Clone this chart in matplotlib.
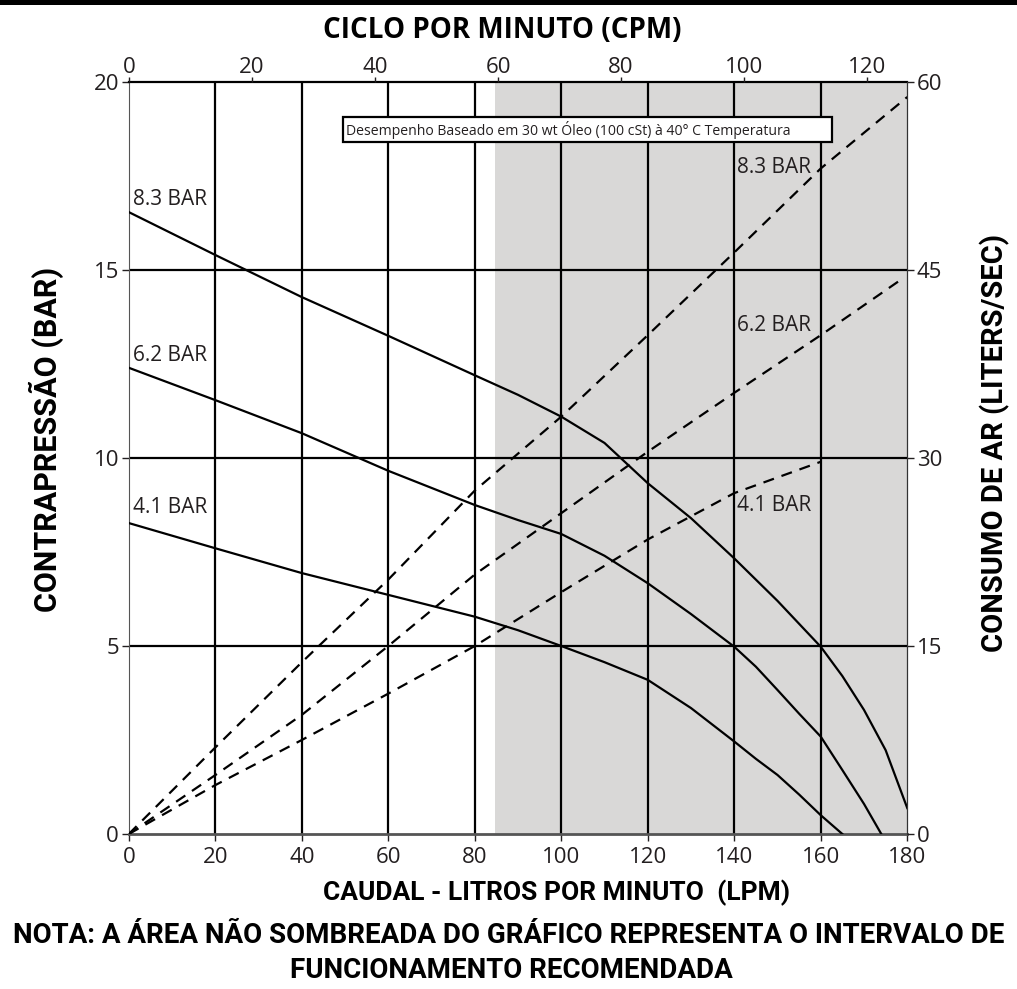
import matplotlib
matplotlib.use('Agg')
import matplotlib.pyplot as plt
from matplotlib.patches import Rectangle

# back pressure curves (bar) vs flow (LPM)
flow_83 = [0, 20, 40, 60, 80, 90, 100, 110, 120, 130, 140, 150, 160, 165, 170, 175, 180]
pres_83 = [16.54, 15.4, 14.28, 13.25, 12.2, 11.68, 11.1, 10.4, 9.33, 8.4, 7.33, 6.2, 4.98,
           4.2, 3.3, 2.23, 0.69]
flow_62 = [0, 20, 40, 60, 80, 90, 100, 110, 120, 130, 140, 145, 150, 155, 160, 165, 170, 174]
pres_62 = [12.4, 11.54, 10.66, 9.66, 8.75, 8.35, 7.98, 7.4, 6.67, 5.85, 4.98, 4.45, 3.83,
           3.2, 2.59, 1.7, 0.8, 0.0]
flow_41 = [0, 20, 40, 60, 80, 90, 100, 110, 120, 130, 140, 145, 150, 155, 160, 165]
pres_41 = [8.27, 7.6, 6.94, 6.36, 5.78, 5.42, 5.0, 4.57, 4.1, 3.35, 2.46, 2.0, 1.57, 1.05,
           0.5, 0.0]

# air consumption (liters/sec) vs flow (LPM)
air_flow_83 = [0, 20, 40, 60, 80, 100, 120, 140, 160, 180]
air_83 = [0, 6.9, 13.7, 20.3, 27.4, 33.3, 39.8, 46.4, 53.1, 58.8]
air_flow_62 = [0, 20, 40, 60, 80, 100, 120, 140, 160, 178]
air_62 = [0, 4.7, 9.5, 15.0, 20.7, 25.6, 30.5, 35.2, 39.8, 44.1]
air_flow_41 = [0, 20, 40, 60, 80, 100, 120, 140, 160]
air_41 = [0, 3.9, 7.5, 11.2, 15.0, 19.3, 23.5, 27.2, 29.7]

x_ticks = [0, 20, 40, 60, 80, 100, 120, 140, 160, 180]
y_ticks = [0, 5, 10, 15, 20]
air_ticks = [0, 15, 30, 45, 60]
cpm_ticks = [0, 20, 40, 60, 80, 100, 120]
cpm_max = 126.5
shade_start = 84.7

reg = 'Open Sans'
cond = 'Roboto'
txt = '#231f20'

fig = plt.figure(figsize=(10.17, 9.89), dpi=100)
ax = fig.add_axes([0.1266, 0.1567, 0.7655, 0.7604])

ax.set_xlim(0, 180)
ax.set_ylim(0, 20)
ax.axvspan(shade_start, 180, color='#d9d8d7', lw=0, zorder=0)

for v in x_ticks[1:-1]:
    ax.axvline(v, color='black', lw=1.6, zorder=1)
for v in y_ticks[1:-1]:
    ax.axhline(v, color='black', lw=1.6, zorder=1)

for f, p in [(flow_83, pres_83), (flow_62, pres_62), (flow_41, pres_41)]:
    ax.plot(f, p, color='black', lw=1.6, zorder=3, solid_joinstyle='round')

ax.set_xticks(x_ticks)
ax.set_yticks(y_ticks)
ax.tick_params(direction='out', length=5, width=1, pad=2, labelsize=16, colors=txt)
ax.tick_params(axis='x', pad=4)
for lab in ax.get_xticklabels() + ax.get_yticklabels():
    lab.set_fontfamily(reg)
ax.spines['left'].set_color('#555555')
ax.spines['bottom'].set_color('#555555')
ax.spines['bottom'].set_linewidth(2)
ax.spines['top'].set_color('black')
ax.spines['top'].set_linewidth(1.6)

# curve labels
for y, s in [(16.6, '8.3 BAR'), (12.45, '6.2 BAR'), (8.4, '4.1 BAR')]:
    ax.text(0.9, y, s, fontsize=15, family=reg, color=txt, va='bottom', zorder=5)
for y, s in [(17.45, '8.3 BAR'), (13.25, '6.2 BAR'), (8.45, '4.1 BAR')]:
    ax.text(140.6, y, s, fontsize=15, family=reg, color=txt, va='bottom', zorder=5)

# note box
ax.add_patch(Rectangle((49.5, 18.4), 113.1, 0.67, fc='white', ec='black', lw=1.6, zorder=6))
ax.text(50.3, 18.735, 'Desempenho Baseado em 30 wt Óleo (100 cSt) à 40° C Temperatura',
        fontsize=10.1, family=reg, color=txt, va='center', zorder=7)

# right axis: air consumption
axr = ax.twinx()
axr.set_ylim(0, 60)
axr.set_yticks(air_ticks)
axr.tick_params(direction='out', length=5, width=1, pad=2, labelsize=16, colors=txt)
for lab in axr.get_yticklabels():
    lab.set_fontfamily(reg)
for f, a in [(air_flow_83, air_83), (air_flow_62, air_62), (air_flow_41, air_41)]:
    axr.plot(f, a, color='black', lw=1.6, ls=(0, (5, 3.6)), zorder=3)
for s in axr.spines.values():
    s.set_visible(False)
axr.spines['right'].set_visible(True)
axr.spines['right'].set_color('#333333')

# top axis: cycles per minute
axt = ax.twiny()
axt.set_xlim(0, cpm_max)
axt.set_xticks(cpm_ticks)
axt.tick_params(direction='out', length=3.6, width=1, pad=-1, labelsize=16, colors=txt)
for lab in axt.get_xticklabels():
    lab.set_fontfamily(reg)
for s in axt.spines.values():
    s.set_visible(False)

fig.text(0.4935, 0.969, 'CICLO POR MINUTO (CPM)', ha='center', va='center',
         fontsize=20, fontweight='bold', family=reg, color='black')
fig.text(0.046, 0.556, 'CONTRAPRESSÃO (BAR)', rotation=90, ha='center', va='center',
         fontsize=22, fontweight='bold', family=cond, color='black')
fig.text(0.978, 0.552, 'CONSUMO DE AR (LITERS/SEC)', rotation=90, ha='center', va='center',
         fontsize=21, fontweight='bold', family=cond, color='black')
fig.text(0.547, 0.097, 'CAUDAL - LITROS POR MINUTO  (LPM)', ha='center', va='center',
         fontsize=19, fontweight='bold', family=cond, color='black')
fig.text(0.5, 0.054, 'NOTA: A ÁREA NÃO SOMBREADA DO GRÁFICO REPRESENTA O INTERVALO DE',
         ha='center', va='center', fontsize=20, fontweight='bold', family=cond, color='black')
fig.text(0.503, 0.019, 'FUNCIONAMENTO RECOMENDADA', ha='center', va='center',
         fontsize=20, fontweight='bold', family=cond, color='black')

# black band along the top edge
fig.add_artist(Rectangle((0, 1 - 5 / 989), 1, 5 / 989, transform=fig.transFigure,
                         color='black', lw=0))

fig.savefig('out.png', dpi=100)
